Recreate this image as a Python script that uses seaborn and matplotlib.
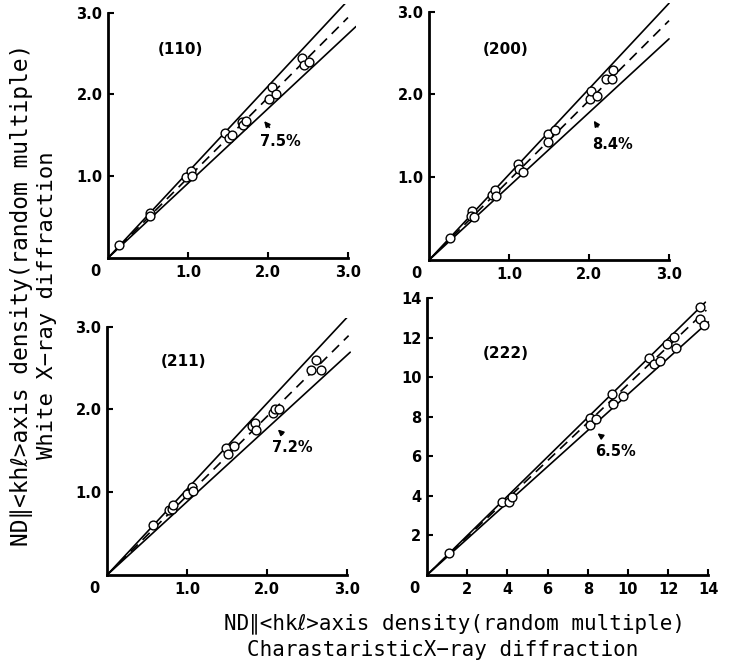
import matplotlib
matplotlib.use("Agg")
import matplotlib.pyplot as plt
import seaborn as sns

# (110) panel: characteristic (x) vs white (y) X-ray densities
x110 = [0.14, 0.52, 0.53, 0.98, 1.04, 1.05, 1.46, 1.51, 1.55, 1.67, 1.69, 1.73, 2.01, 2.05, 2.10, 2.43, 2.45, 2.51]
y110 = [0.16, 0.55, 0.51, 0.99, 1.06, 1.00, 1.53, 1.47, 1.50, 1.66, 1.62, 1.68, 1.94, 2.09, 2.00, 2.45, 2.36, 2.40]
# (200)
x200 = [0.26, 0.54, 0.53, 0.56, 0.79, 0.83, 0.84, 1.11, 1.13, 1.17, 1.49, 1.49, 1.57, 2.01, 2.03, 2.10, 2.21, 2.29, 2.30]
y200 = [0.27, 0.59, 0.53, 0.52, 0.79, 0.84, 0.77, 1.16, 1.10, 1.06, 1.52, 1.42, 1.57, 1.94, 2.04, 1.98, 2.18, 2.19, 2.29]
# (211)
x211 = [0.57, 0.78, 0.81, 0.83, 1.00, 1.06, 1.08, 1.49, 1.51, 1.59, 1.81, 1.85, 1.86, 2.07, 2.10, 2.15, 2.55, 2.61, 2.68]
y211 = [0.60, 0.78, 0.80, 0.84, 0.98, 1.06, 1.01, 1.53, 1.46, 1.56, 1.80, 1.84, 1.75, 1.95, 2.01, 2.01, 2.47, 2.59, 2.48]
# (222)
x222 = [1.08, 3.73, 4.06, 4.23, 8.09, 8.09, 8.42, 9.20, 9.25, 9.75, 11.03, 11.28, 11.58, 11.94, 12.30, 12.40, 13.60, 13.60, 13.80]
y222 = [1.10, 3.71, 3.68, 3.96, 7.93, 7.59, 7.88, 9.16, 8.65, 9.06, 10.96, 10.67, 10.84, 11.67, 12.02, 11.47, 13.57, 12.93, 12.65]

# end points of upper / centre (dashed) / lower lines, all from the origin
end_x110 = [3.02, 3.00, 3.10]
end_y110 = [3.17, 2.94, 2.83]
end_x200 = [3.00, 3.00, 3.00]
end_y200 = [3.10, 2.89, 2.67]
end_x211 = [3.00, 3.02, 3.04]
end_y211 = [3.11, 2.89, 2.69]
end_x222 = [13.85, 13.90, 14.00]
end_y222 = [13.80, 13.40, 12.80]

titles = ["(110)", "(200)", "(211)", "(222)"]
percents = ["7.5%", "8.4%", "7.2%", "6.5%"]
small_ticks = [1.0, 2.0, 3.0]
small_labels = ["1.0", "2.0", "3.0"]
big_ticks = [2, 4, 6, 8, 10, 12, 14]
big_labels = ["2", "4", "6", "8", "10", "12", "14"]

sns.set_style("ticks")
plt.rcParams["font.family"] = ["DejaVu Sans"]
plt.rcParams["text.color"] = "black"
plt.rcParams["axes.edgecolor"] = "black"
plt.rcParams["xtick.color"] = "black"
plt.rcParams["ytick.color"] = "black"

fig = plt.figure(figsize=(7.32, 6.63), dpi=100)


def draw_panel(rect, xs, ys, ex, ey, title, title_xy, pct, pct_xy, tip, tail,
               ticks, ticklabels, lim, top):
    ax = fig.add_axes(rect)
    styles = ["-", "--", "-"]
    for i in range(3):
        ax.plot([0, ex[i]], [0, ey[i]], color="black", lw=1.2, ls=styles[i],
                dashes=(6, 4) if styles[i] == "--" else (None, None))
    sns.scatterplot(x=xs, y=ys, ax=ax, marker="o", s=40, facecolors="white",
                    edgecolor="black", linewidth=1.0, zorder=3)
    ax.set_xlim(0, lim)
    ax.set_ylim(0, lim)
    sns.despine(ax=ax)
    ax.spines["left"].set_bounds(0, top)
    ax.spines["bottom"].set_bounds(0, top)
    for s in ["left", "bottom"]:
        ax.spines[s].set_linewidth(2)
        ax.spines[s].set_color("black")
    ax.set_xticks(ticks)
    ax.set_xticklabels(ticklabels)
    ax.set_yticks(ticks)
    ax.set_yticklabels(ticklabels)
    ax.tick_params(direction="in", length=4, width=1.5, labelsize=10.5,
                   colors="black")
    ax.tick_params(axis="x", pad=5)
    ax.tick_params(axis="y", pad=4)
    for lab in ax.get_xticklabels() + ax.get_yticklabels():
        lab.set_fontweight("bold")
    ax.annotate("0", xy=(0, 0), xytext=(-9, -10), textcoords="offset points",
                ha="center", va="center", fontsize=10.5, fontweight="bold")
    ax.text(title_xy[0], title_xy[1], title, ha="center", va="center",
            fontsize=11, fontweight="bold")
    ax.text(pct_xy[0], pct_xy[1], pct, ha="center", va="center",
            fontsize=10.5, fontweight="bold")
    ax.annotate("", xy=tip, xytext=tail,
                arrowprops=dict(arrowstyle="-|>", color="black", lw=1.2,
                                mutation_scale=8))
    ax.set_xlabel("")
    ax.set_ylabel("")
    return ax


draw_panel([0.1475, 0.6109, 0.3388, 0.3824], x110, y110, end_x110, end_y110,
           titles[0], (0.90, 2.55), percents[0], (2.16, 1.42), (1.93, 1.70), (2.04, 1.57),
           small_ticks, small_labels, 3.1, 3.0)
draw_panel([0.5861, 0.6078, 0.3388, 0.3873], x200, y200, end_x200, end_y200,
           titles[1], (0.96, 2.54), percents[1], (2.29, 1.39), (2.04, 1.71), (2.13, 1.58),
           small_ticks, small_labels, 3.1, 3.0)
draw_panel([0.1462, 0.1327, 0.3388, 0.3873], x211, y211, end_x211, end_y211,
           titles[2], (0.95, 2.58), percents[2], (2.31, 1.54), (2.11, 1.78), (2.22, 1.68),
           small_ticks, small_labels, 3.1, 3.0)
draw_panel([0.5833, 0.1327, 0.3927, 0.4264], x222, y222, end_x222, end_y222,
           titles[3], (3.9, 11.2), percents[3], (9.37, 6.24), (8.37, 7.25), (8.82, 6.91),
           big_ticks, big_labels, 14.3, 14)

label_font = ["DejaVu Sans Mono", "DejaVu Sans"]
fig.text(22 / 732, 1 - 295 / 663, "ND\u2225<kh\u2113>axis density(random multiple)",
         rotation=90, ha="center", va="center", fontsize=16.5, family=label_font)
fig.text(47 / 732, 1 - 305 / 663, "White X\u2212ray diffraction",
         rotation=90, ha="center", va="center", fontsize=16, family=label_font)
fig.text(455 / 732, 1 - 624 / 663, "ND\u2225<hk\u2113>axis density(random multiple)",
         ha="center", va="center", fontsize=15, family=label_font)
fig.text(443 / 732, 1 - 650 / 663, "CharastaristicX\u2212ray diffraction",
         ha="center", va="center", fontsize=15, family=label_font)

fig.savefig("out.png", dpi=100)
